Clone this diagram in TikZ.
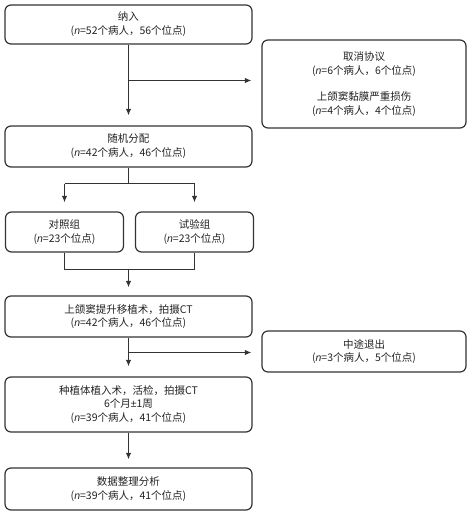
\documentclass[tikz,border=0pt]{standalone}
\usepackage{fontspec}
\setmainfont{Noto Sans CJK SC}
\newfontfamily\latfont{Liberation Sans}
\usetikzlibrary{arrows.meta}
\definecolor{ln}{HTML}{333333}
\definecolor{tx}{HTML}{222222}
\newcommand{\nn}{{\latfont\itshape n}}
\begin{document}
\begin{tikzpicture}[x=1pt,y=1pt,
  box/.style={draw=ln, line width=1.2pt, rounded corners=6pt, align=center,
    inner sep=0pt, text=tx, font=\fontsize{10.5pt}{13.8pt}\selectfont},
  wide/.style={box, minimum width=247pt},
  side/.style={box, minimum width=204pt},
  half/.style={box, minimum width=118pt},
  conn/.style={draw=ln, line width=1.2pt},
  arr/.style={conn, -{Latex[length=6.5pt,width=5.5pt]}}]
\useasboundingbox (0,0) rectangle (470,-515);
\node[wide, minimum height=39pt] (b1) at (128.5,-24.5) {纳入\\(\nn=52个病人，56个位点)};
\node[side, minimum height=88pt] (ex1) at (364,-84) {取消协议\\(\nn=6个病人，6个位点)\\[12pt]上颌窦黏膜严重损伤\\(\nn=4个病人，4个位点)};
\node[wide, minimum height=41pt] (b2) at (128.5,-146.5) {随机分配\\(\nn=42个病人，46个位点)};
\node[half, minimum height=40pt] (ctrl) at (64.5,-232) {对照组\\(\nn=23个位点)};
\node[half, minimum height=40pt] (test) at (194.5,-232) {试验组\\(\nn=23个位点)};
\node[wide, minimum height=41pt] (b4) at (128.5,-316.5) {上颌窦提升移植术，拍摄CT\\(\nn=42个病人，46个位点)};
\node[side, minimum height=41pt] (ex2) at (364,-351.5) {中途退出\\(\nn=3个病人，5个位点)};
\node[wide, minimum height=55pt] (b5) at (128.5,-404.5) {种植体植入术，活检，拍摄CT\\6个月{\latfont ±}1周\\(\nn=39个病人，41个位点)};
\node[wide, minimum height=42pt] (b6) at (128.5,-489) {数据整理分析\\(\nn=39个病人，41个位点)};
% b1 -> b2 with branch
\coordinate (br1) at (128.5,-80.5);
\draw[arr, shorten >=10pt] (b1) -- (b2);
\draw[arr, shorten >=10pt] (br1) -- (br1 -| ex1.west);
% split
\coordinate (sp) at (128.5,-183.5);
\draw[conn] (b2) -- (sp);
\draw[conn] (sp -| ctrl.north) -- (sp -| test.north);
\draw[arr, shorten >=9pt] (sp -| ctrl.north) -- (ctrl);
\draw[arr, shorten >=9pt] (sp -| test.north) -- (test);
% join
\coordinate (jn) at (128.5,-269.5);
\draw[conn] (ctrl.south) -- (ctrl.south |- jn) -- (test.south |- jn) -- (test.south);
\draw[arr, shorten >=8pt] (jn) -- (b4);
% b4 -> b5 with branch
\coordinate (br2) at (128.5,-352.5);
\draw[arr, shorten >=10pt] (b4) -- (b5);
\draw[arr, shorten >=10pt] (br2) -- (br2 -| ex2.west);
% b5 -> b6
\draw[arr, shorten >=8pt] (b5) -- (b6);
\end{tikzpicture}
\end{document}
